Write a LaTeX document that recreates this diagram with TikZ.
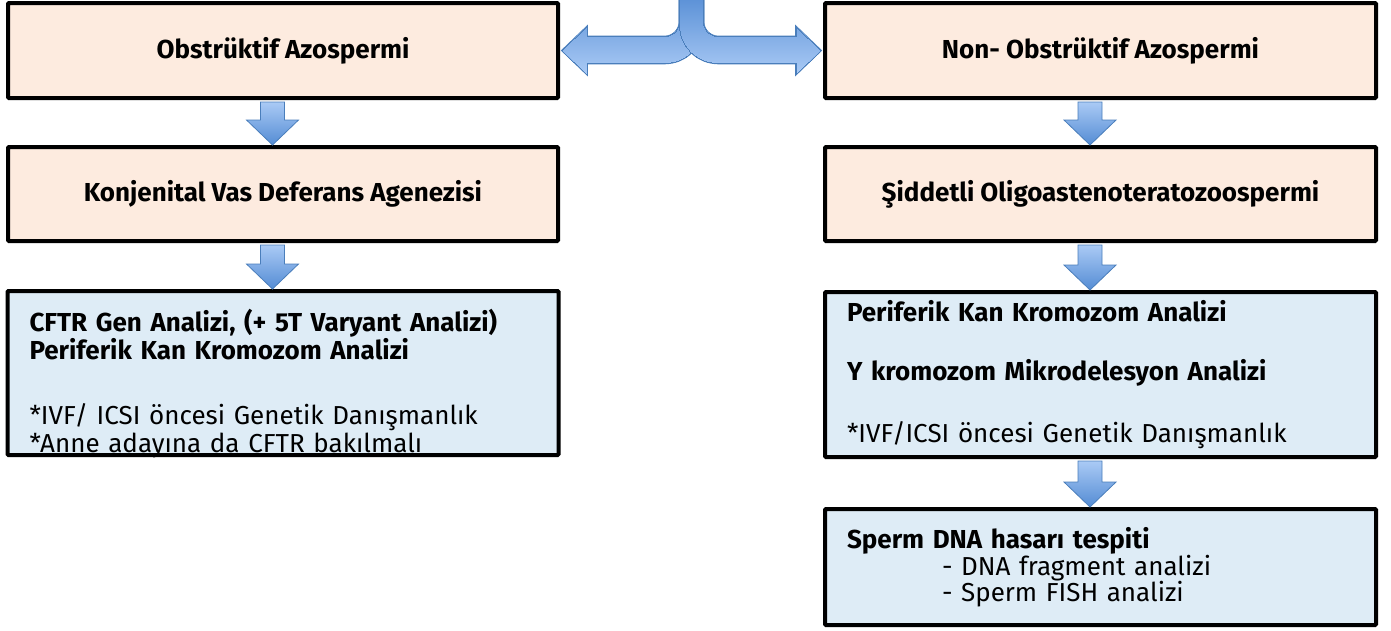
\documentclass[tikz,border=0pt]{standalone}
\usepackage{fontspec}
\setmainfont{Fira Sans}
\usetikzlibrary{calc}

\definecolor{peach}{RGB}{253,235,223}
\definecolor{paleblue}{RGB}{222,236,246}
\definecolor{arrowedge}{RGB}{74,126,187}
\definecolor{arrowdark}{RGB}{84,140,212}
\definecolor{arrowlight}{RGB}{170,202,245}

\tikzset{
  headbox/.style={draw=black, line width=4pt, fill=peach, rounded corners=1pt,
    minimum width=550pt, font=\fontsize{26}{28}\selectfont\bfseries, align=center},
  infobox/.style={draw=black, line width=4pt, fill=paleblue, rounded corners=1pt,
    minimum width=551pt, inner xsep=22pt, text width=507pt, align=left,
    font=\fontsize{26}{28}\selectfont},
  blkarrow/.style={draw=arrowedge, line width=0.8pt, top color=arrowlight, bottom color=arrowdark},
}

% block arrow from the bottom of #1 to the top of #2
\newcommand{\blkdown}[2]{%
  \path[blkarrow] let \p1=(#1.south), \p2=(#2.north) in
    (\x1-22.5pt,\y1-2pt) -- (\x1-22.5pt,\y2+25pt) -- (\x1-36.5pt,\y2+25pt) --
    (\x1-10.5pt,\y2) -- (\x1+15.5pt,\y2+25pt) -- (\x1+1.5pt,\y2+25pt) --
    (\x1+1.5pt,\y1-2pt) -- cycle;}

\begin{document}
\begin{tikzpicture}[x=1pt,y=-1pt]
\useasboundingbox (0,0) rectangle (1391,630);

\node[headbox, minimum height=95pt] (obs) at (283,50.5) {Obstrüktif Azospermi};
\node[headbox, minimum height=94pt] (kvda) at (283,194) {Konjenital Vas Deferans Agenezisi};
\node[infobox, minimum height=164pt, inner ysep=0pt, text height=37pt, text depth=121pt] (cftr) at (283,373) {%
  \textbf{CFTR Gen Analizi, (+ 5T Varyant Analizi)}\\
  \textbf{Periferik Kan Kromozom Analizi}\\[37pt]
  {}*IVF/ ICSI öncesi Genetik Danışmanlık\\
  {}*Anne adayına da CFTR bakılmalı};

\node[headbox, minimum width=551pt, minimum height=95pt] (nobs) at (1100.5,50.5) {Non- Obstrüktif Azospermi};
\node[headbox, minimum width=551pt, minimum height=94pt] (olig) at (1100.5,194) {Şiddetli Oligoastenoteratozoospermi};
\node[infobox, minimum height=165pt] (kromo) at (1100.5,374.5) {%
  \textbf{Periferik Kan Kromozom Analizi}\\[31pt]
  \textbf{Y kromozom Mikrodelesyon Analizi}\\[34pt]
  {}*IVF/ICSI öncesi Genetik Danışmanlık};
\node[infobox, minimum height=116pt] (dna) at (1100.5,567) {%
  \textbf{Sperm DNA hasarı tespiti}\\[-1pt]
  \hspace*{95pt}- DNA fragment analizi\\[-2pt]
  \hspace*{95pt}- Sperm FISH analizi};

\blkdown{obs}{kvda}
\blkdown{kvda}{cftr}
\blkdown{nobs}{olig}
\blkdown{olig}{kromo}
\blkdown{kromo}{dna}

% split arrow on top
\coordinate (ltip) at ($(obs.east)+(2,0)$);
\coordinate (rtip) at ($(nobs.west)+(-2,0)$);
\coordinate (split) at ($(ltip)!0.5!(rtip)$);
\foreach \lw/\opt in {1.6pt/draw, 0pt/} {
  \path[\opt, draw=arrowedge, line width=\lw, top color=arrowdark, bottom color=arrowlight]
    let \p0=(split), \p1=(ltip) in
    (\x0-12pt,\y0+60pt) -- (\x0-12pt,\y0+29pt) arc[start angle=0, end angle=-90, radius=15pt] --
    (\x1+25pt,\y0+14pt) -- (\x1+25pt,\y0+24pt) -- (\x1,\y0) -- (\x1+25pt,\y0-24pt) --
    (\x1+25pt,\y0-13pt) -- (\x0-27pt,\y0-13pt) arc[start angle=-90, end angle=0, radius=39pt] --
    (\x0+12pt,\y0+60pt) -- cycle;
  \path[\opt, draw=arrowedge, line width=\lw, top color=arrowdark, bottom color=arrowlight]
    let \p0=(split), \p2=(rtip) in
    (\x0+12pt,\y0+60pt) -- (\x0+12pt,\y0+29pt) arc[start angle=180, end angle=270, radius=15pt] --
    (\x2-25pt,\y0+14pt) -- (\x2-25pt,\y0+24pt) -- (\x2,\y0) -- (\x2-25pt,\y0-24pt) --
    (\x2-25pt,\y0-13pt) -- (\x0+27pt,\y0-13pt) arc[start angle=-90, end angle=-180, radius=39pt] --
    (\x0-12pt,\y0+60pt) -- cycle;
}
\end{tikzpicture}
\end{document}
